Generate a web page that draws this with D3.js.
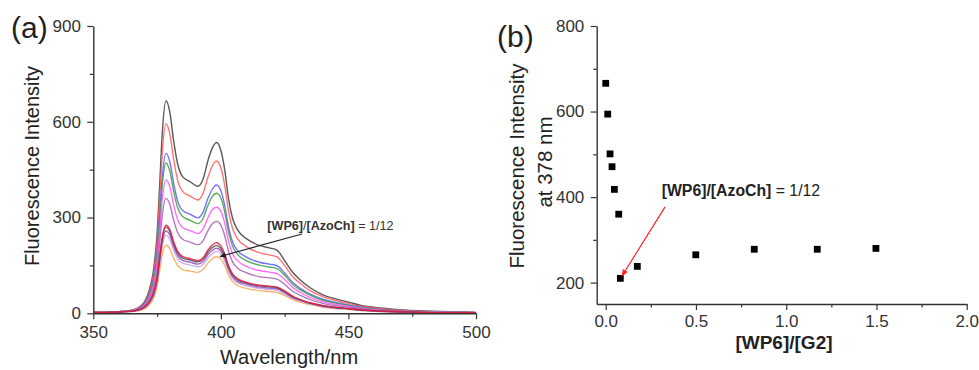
<!DOCTYPE html>
<html>
<head>
<meta charset="utf-8">
<script src="https://cdn.jsdelivr.net/npm/d3@7"></script>
<style>
  html, body { margin: 0; padding: 0; background: #fff; }
  svg { display: block; font-family: "Liberation Sans", Arial, sans-serif; }
</style>
</head>
<body>
<svg id="chart" width="979" height="370"></svg>
<script>
// ---------- DATA ----------
const wavelengths = [350,355,360,364,367,370,372,373.5,375,376,377,378.5,380,381.5,383,385,388,391,393,395,396.5,398.3,400,401.5,403,404.5,406.5,410,415,419,422,425,428,431,435,440,445,450,455,460,470,480,490,500];

const sBlack    = [3,3,5,8,15, 35,75,130,250,400, 560,666,630,540,470, 428,412,398,420,480, 515,535,510,450,360, 300,262,234,213,205, 198,165,130,105,80, 58,45,35,25,19, 11,7,5,3];
const sRed      = [3,3,5,8,14, 32,68,118,225,360, 500,594,562,482,419, 382,367,355,375,428, 459,477,455,401,321, 268,234,209,190,183, 177,150,116,94,71, 52,40,31,22,17, 10,6,4,3];
const sBlue     = [3,3,5,7,13, 29,60,102,190,305, 425,501,474,406,353, 322,310,299,316,361, 387,402,384,338,271, 226,197,176,160,154, 149,126,98,79,60, 44,34,26,19,14, 8,5,4,2];
const sGreen    = [3,3,5,7,12, 27,56,95,178,285, 398,471,445,382,332, 303,291,281,297,339, 364,376,361,318,255, 212,185,165,151,145, 140,119,92,74,57, 41,32,25,18,13, 8,5,4,2];
const sMagenta  = [3,3,4,7,11, 25,50,85,158,255, 355,418,396,339,295, 269,259,250,264,301, 323,332,320,283,226, 188,165,147,134,129, 124,106,82,66,50, 36,28,22,16,12, 7,4,3,2];
const sPurple   = [3,3,4,6,10, 22,44,74,137,220, 305,360,341,292,254, 232,223,215,227,260, 279,288,276,243,195, 162,142,127,115,111, 107,91,70,57,43, 31,24,19,14,10, 6,4,3,2];
const sCrimson  = [3,3,4,6,9, 19,37,62,112,178, 238,276,262,224,195, 178,171,165,174,199, 213,221,211,186,149, 124,109,97,88,85, 82,70,54,43,33, 24,19,15,11,8, 5,3,2,2];
const sDarkGray = [3,3,4,6,9, 19,36,60,108,172, 232,270,256,219,190, 173,167,161,169,192, 205,212,203,180,145, 122,106,95,86,83, 80,68,53,43,32, 24,18,14,10,8, 5,3,2,2];
const sViolet   = [3,3,4,6,9, 18,34,56,102,163, 222,258,245,209,182, 166,160,154,162,184, 196,204,195,173,140, 116,101,91,82,79, 77,65,50,41,31, 22,17,14,10,7, 4,3,2,2];
const sLavender = [3,3,4,5,8, 17,32,52,96,154, 210,244,231,198,172, 157,151,146,153,174, 186,194,186,165,132, 110,96,86,78,75, 72,61,48,38,29, 21,16,13,9,7, 4,3,2,2];
const sOrange   = [3,3,4,5,7, 14,27,44,82,133, 183,213,202,173,150, 137,132,128,137,158, 170,177,170,150,120, 100,87,78,71,68, 65,56,44,35,27, 19,15,12,9,6, 4,3,2,2];

const seriesNames  = ["black","red","blue","green","magenta","purple","orange","lavender","violet","darkgray","crimson"];
const seriesColors = ["#3c3c3c","#ff5a5a","#5a5aff","#3f9f3f","#ff55ff","#a65fb0","#f5a850","#c8a2e8","#8f50c0","#505050","#e8173f"];
const seriesData   = [sBlack,sRed,sBlue,sGreen,sMagenta,sPurple,sOrange,sLavender,sViolet,sDarkGray,sCrimson];

const ratioWP6G2   = [0.0, 0.011, 0.024, 0.035, 0.048, 0.072, 0.081, 0.175, 0.499, 0.823, 1.172, 1.497];
const intensity378 = [666, 594, 501, 471, 418, 360, 210, 238, 265, 278, 278, 280];

const aXTicks = [350, 400, 450, 500];
const aXMinor = [375, 425, 475];
const aYTicks = [0, 300, 600, 900];
const aYMinor = [150, 450, 750];
const bXTicks = [0.0, 0.5, 1.0, 1.5, 2.0];
const bXMinor = [0.25, 0.75, 1.25, 1.75];
const bYTicks = [200, 400, 600, 800];
const bYMinor = [300, 500, 700];

// ---------- DRAW ----------
const svg = d3.select("#chart");
const axisColor = "#333";
const tickFont = 17;

const defs = svg.append("defs");
function marker(id, color) {
  defs.append("marker").attr("id", id).attr("viewBox", "0 0 10 10")
    .attr("refX", 9).attr("refY", 5).attr("markerWidth", 6).attr("markerHeight", 6)
    .attr("orient", "auto-start-reverse")
    .append("path").attr("d", "M0,1 L10,5 L0,9 Z").attr("fill", color);
}
marker("arrBlack", "#222");
marker("arrRed", "#ff2020");

function drawAxes(g, x, y, xt, xm, yt, ym, xfmt, yfmt, xLabelOffset) {
  const ax = g.append("g").attr("transform", `translate(0,${y.range()[0]})`)
    .call(d3.axisBottom(x).tickValues(xt).tickSize(6).tickSizeOuter(0).tickFormat(xfmt));
  const am = g.append("g").attr("transform", `translate(0,${y.range()[0]})`)
    .call(d3.axisBottom(x).tickValues(xm).tickSize(3.5).tickSizeOuter(0).tickFormat(""));
  am.select(".domain").remove();
  const ay = g.append("g").attr("transform", `translate(${x.range()[0]},0)`)
    .call(d3.axisLeft(y).tickValues(yt).tickSize(6).tickSizeOuter(0).tickFormat(yfmt));
  const aym = g.append("g").attr("transform", `translate(${x.range()[0]},0)`)
    .call(d3.axisLeft(y).tickValues(ym).tickSize(3.5).tickSizeOuter(0).tickFormat(""));
  aym.select(".domain").remove();
  [ax, am, ay, aym].forEach(a => {
    a.selectAll(".domain").attr("stroke", axisColor).attr("stroke-width", 1.4);
    a.selectAll(".tick line").attr("stroke", axisColor).attr("stroke-width", 1.2);
    a.selectAll(".tick text").attr("fill", "#333").attr("font-size", tickFont)
      .attr("font-family", "Liberation Sans, Arial, sans-serif");
  });
  ax.selectAll(".tick text").attr("y", xLabelOffset).attr("dy", 0);
  ay.selectAll(".tick text").attr("dx", "-0.2em");
}

// ----- Panel (a) -----
const xA = d3.scaleLinear().domain([350, 500]).range([93.3, 476]);
const yA = d3.scaleLinear().domain([0, 900]).range([313.3, 26]);
const gA = svg.append("g");

const line = d3.line().x((d, i) => xA(wavelengths[i])).y(d => yA(d)).curve(d3.curveMonotoneX);
gA.selectAll("path.spec").data(seriesData).join("path")
  .attr("class", "spec")
  .attr("d", d => line(d))
  .attr("fill", "none")
  .attr("stroke", (d, i) => seriesColors[i])
  .attr("stroke-width", 1.4)
  .attr("stroke-opacity", 0.85);

drawAxes(gA, xA, yA, aXTicks, aXMinor, aYTicks, aYMinor, d3.format("d"), d3.format("d"), 24.5);

svg.append("text").attr("x", 11).attr("y", 38).attr("font-size", 30).attr("fill", "#222").text("(a)");
svg.append("text").attr("transform", "translate(39,166) rotate(-90)").attr("text-anchor", "middle")
  .attr("font-size", 20).attr("fill", "#222").text("Fluorescence Intensity");
svg.append("text").attr("x", 289).attr("y", 364).attr("text-anchor", "middle")
  .attr("font-size", 20).attr("fill", "#222").text("Wavelength/nm");

// annotation (a)
gA.append("line")
  .attr("x1", xA(431.8)).attr("y1", yA(248.4))
  .attr("x2", xA(399.7)).attr("y2", yA(178))
  .attr("stroke", "#222").attr("stroke-width", 1.1).attr("marker-end", "url(#arrBlack)");
const ta = gA.append("text").attr("x", xA(418.2)).attr("y", yA(261)).attr("font-size", 12.6).attr("fill", "#333");
ta.append("tspan").attr("font-weight", "bold").text("[WP6]");
ta.append("tspan").text("/");
ta.append("tspan").attr("font-weight", "bold").text("[AzoCh]");
ta.append("tspan").text(" = 1/12");

// ----- Panel (b) -----
const xB = d3.scaleLinear().domain([-0.05, 2.0]).range([596.7, 966.7]);
const yB = d3.scaleLinear().domain([150, 800]).range([304, 26]);
const gB = svg.append("g");

drawAxes(gB, xB, yB, bXTicks, bXMinor, bYTicks, bYMinor, d3.format(".1f"), d3.format("d"), 22.5);

const sq = 6.8;
gB.selectAll("rect.pt").data(ratioWP6G2).join("rect")
  .attr("class", "pt")
  .attr("x", d => xB(d) - sq / 2)
  .attr("y", (d, i) => yB(intensity378[i]) - sq / 2)
  .attr("width", sq).attr("height", sq)
  .attr("fill", "#000");

svg.append("text").attr("x", 497).attr("y", 47).attr("font-size", 30).attr("fill", "#222").text("(b)");
svg.append("text").attr("transform", "translate(524,166) rotate(-90)").attr("text-anchor", "middle")
  .attr("font-size", 20.5).attr("fill", "#222").text("Fluorescence Intensity");
svg.append("text").attr("transform", "translate(552,162) rotate(-90)").attr("text-anchor", "middle")
  .attr("font-size", 20.5).attr("fill", "#222").text("at 378 nm");
svg.append("text").attr("x", 784).attr("y", 349).attr("text-anchor", "middle")
  .attr("font-size", 19).attr("font-weight", "bold").attr("fill", "#222").text("[WP6]/[G2]");

// annotation (b)
gB.append("line")
  .attr("x1", xB(0.329)).attr("y1", yB(377))
  .attr("x2", xB(0.09)).attr("y2", yB(215.5))
  .attr("stroke", "#ff2020").attr("stroke-width", 1.2).attr("marker-end", "url(#arrRed)");
const tb = gB.append("text").attr("x", xB(0.31)).attr("y", yB(402.5)).attr("font-size", 15.8).attr("fill", "#222");
tb.append("tspan").attr("font-weight", "bold").text("[WP6]/[AzoCh]");
tb.append("tspan").text(" = 1/12");
</script>
</body>
</html>
